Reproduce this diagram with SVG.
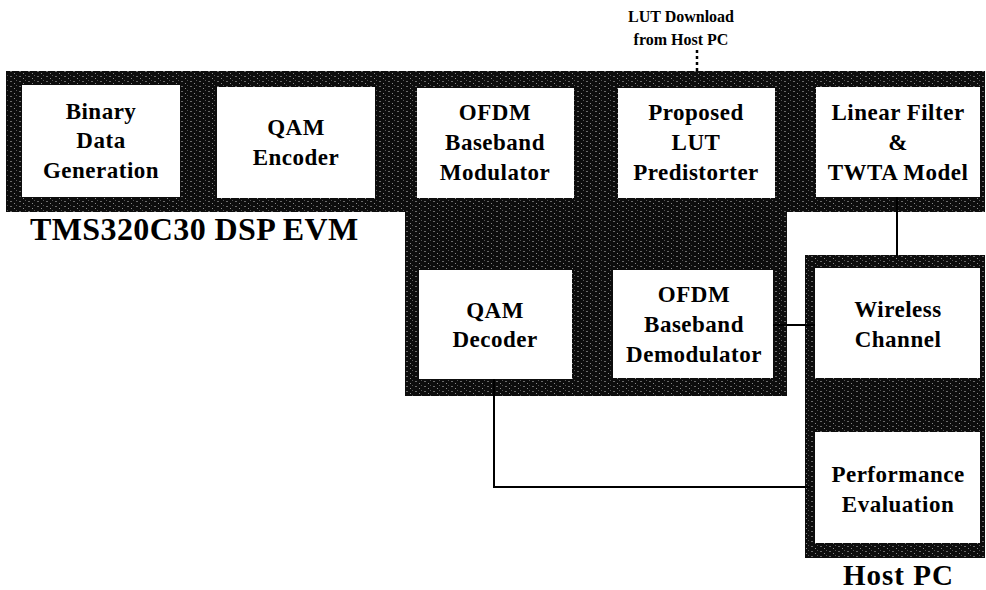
<svg xmlns="http://www.w3.org/2000/svg" width="986" height="590" viewBox="0 0 986 590">
  <defs>
    <pattern id="tex" width="9" height="5" patternUnits="userSpaceOnUse">
      <rect width="9" height="5" fill="#0d0d0d"/>
      <rect x="1" y="1" width="2" height="1" fill="#6a6a6a"/>
      <rect x="5" y="3" width="1" height="1" fill="#8a8a8a"/>
      <rect x="7" y="0" width="1" height="1" fill="#555"/>
    </pattern>
  </defs>
  <style>
    .region { fill: url(#tex); }
    .box { fill: #ffffff; }
    .t { font-family: "Liberation Serif", "Times New Roman", serif; font-weight: bold; font-size: 23px; letter-spacing: 0.5px; fill: #000; text-anchor: middle; }
    .big { font-family: "Liberation Serif", "Times New Roman", serif; font-weight: bold; fill: #000; }
    .small { font-family: "Liberation Serif", "Times New Roman", serif; font-weight: bold; font-size: 16px; fill: #000; text-anchor: middle; }
    .line { stroke: #000; stroke-width: 2; fill: none; }
  </style>

  <!-- Backgrounds (board regions) -->
  <g id="dsp-evm">
    <rect class="region" x="6" y="71" width="979" height="141"/>
    <rect class="region" x="405" y="210" width="382" height="186"/>
    <text class="big" x="30" y="240" font-size="32" letter-spacing="0.4">TMS320C30 DSP EVM</text>
  </g>
  <g id="host-pc">
    <rect class="region" x="805" y="255" width="180" height="303"/>
    <text class="big" x="843" y="585" font-size="29" letter-spacing="1">Host PC</text>
  </g>

  <!-- Connectors -->
  <g id="connectors">
    <line class="line" x1="897" y1="197" x2="897" y2="256"/>
    <line class="line" x1="772" y1="325" x2="817" y2="325"/>
    <polyline class="line" points="494,379 494,487 810,487"/>
    <line x1="697" y1="50" x2="697" y2="72" stroke="#000" stroke-width="2.5" stroke-dasharray="3,3"/>
  </g>

  <g id="lut-label">
    <text class="small" x="681" y="22">LUT Download</text>
    <text class="small" x="681" y="45">from Host PC</text>
  </g>

  <g id="binary-data">
    <rect class="box" x="22" y="85" width="158" height="112"/>
    <text class="t" x="101" y="119">Binary</text>
    <text class="t" x="101" y="148">Data</text>
    <text class="t" x="101" y="178">Generation</text>
  </g>
  <g id="qam-encoder">
    <rect class="box" x="217" y="87" width="158" height="111"/>
    <text class="t" x="296" y="135">QAM</text>
    <text class="t" x="296" y="165">Encoder</text>
  </g>
  <g id="ofdm-mod">
    <rect class="box" x="417" y="88" width="157" height="110"/>
    <text class="t" x="495" y="120">OFDM</text>
    <text class="t" x="495" y="150">Baseband</text>
    <text class="t" x="495" y="180">Modulator</text>
  </g>
  <g id="lut-predistorter">
    <rect class="box" x="618" y="88" width="157" height="110"/>
    <text class="t" x="696" y="120">Proposed</text>
    <text class="t" x="696" y="150">LUT</text>
    <text class="t" x="696" y="180">Predistorter</text>
  </g>
  <g id="twta">
    <rect class="box" x="816" y="87" width="164" height="110"/>
    <text class="t" x="898" y="120">Linear Filter</text>
    <text class="t" x="898" y="150">&amp;</text>
    <text class="t" x="898" y="180">TWTA Model</text>
  </g>
  <g id="qam-decoder">
    <rect class="box" x="419" y="270" width="153" height="109"/>
    <text class="t" x="495" y="318">QAM</text>
    <text class="t" x="495" y="347">Decoder</text>
  </g>
  <g id="ofdm-demod">
    <rect class="box" x="613" y="270" width="160" height="108"/>
    <text class="t" x="694" y="302">OFDM</text>
    <text class="t" x="694" y="332">Baseband</text>
    <text class="t" x="694" y="362">Demodulator</text>
  </g>
  <g id="wireless">
    <rect class="box" x="815" y="268" width="165" height="110"/>
    <text class="t" x="898" y="317">Wireless</text>
    <text class="t" x="898" y="347">Channel</text>
  </g>
  <g id="performance">
    <rect class="box" x="815" y="432" width="165" height="111"/>
    <text class="t" x="898" y="482">Performance</text>
    <text class="t" x="898" y="512">Evaluation</text>
  </g>
</svg>
